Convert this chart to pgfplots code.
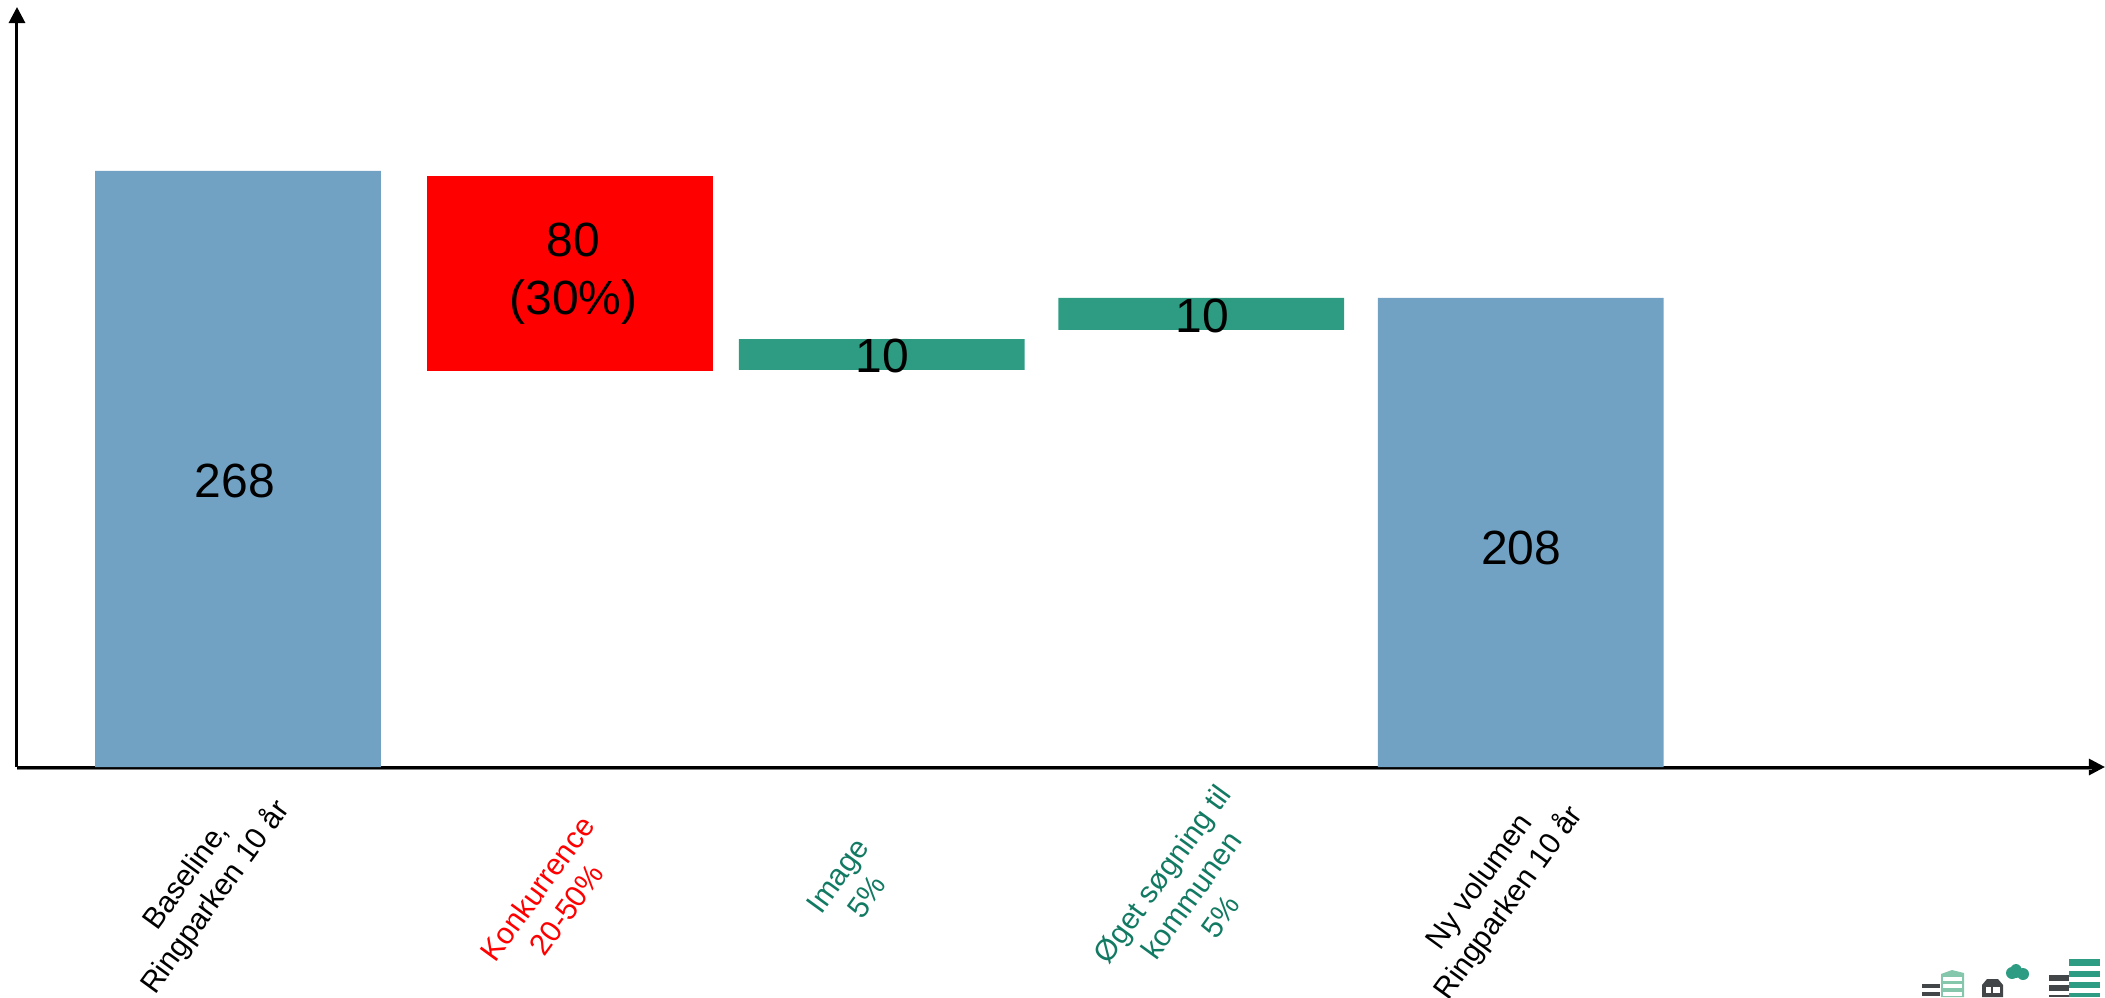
\documentclass[border=0pt]{standalone}
\usepackage{fontspec}
\setmainfont{Liberation Sans}
\usepackage{pgfplots}
\pgfplotsset{compat=1.18}
\usetikzlibrary{arrows.meta}
\definecolor{barblue}{HTML}{71A2C3}
\definecolor{bargreen}{HTML}{2E9C82}
\definecolor{txtgreen}{HTML}{127A62}
\definecolor{logolight}{HTML}{84C7AC}
\definecolor{logogrey}{HTML}{434648}
\tikzset{val/.style={font=\fontsize{24}{29}\selectfont, align=center, text=black}}
\begin{document}
\begin{tikzpicture}
\path[use as bounding box] (0,0) rectangle (1052.5pt,-498.5pt);
\begin{axis}[
	at={(8.5pt,-383.5pt)}, anchor=south west,
	scale only axis, width=1044pt, height=380pt,
	xmin=-0.6917, xmax=5.8435, ymin=0, ymax=341.7,
	axis lines=left,
	axis line style={line width=1.5pt, -{Triangle[length=8pt,width=8pt]}},
	ybar stacked, bar width=0.895,
	clip=false,
	ytick=\empty,
	xtick={-0.113,0.982,1.922,2.983,3.935},
	xticklabels={
		{Baseline,\\Ringparken 10 år},
		{\color{red}Konkurrence\\\color{red}20-50\%},
		{\color{txtgreen}Image\\\color{txtgreen}5\%},
		{\color{txtgreen}Øget søgning til\\\color{txtgreen}kommunen\\\color{txtgreen}5\%},
		{Ny volumen\\Ringparken 10 år}},
	major tick length=0pt,
	xticklabel style={yshift={-66pt+array({5.75,0,6.5,2,3},\ticknum)*1pt},
		rotate=54, anchor=center, align=center,
		font=\fontsize{15}{18}\selectfont},
	after end axis/.code={
		\node[val] at (axis cs:-0.01,128.6) {268};
		\node[val] at (axis cs:1.05,222) {80\\(30\%)};
		\node[val] at (axis cs:2.016,184.8) {10};
		\node[val] at (axis cs:3.018,203) {10};
		\node[val] at (axis cs:4.016,98.5) {208};
	},
]
% invisible base of the floating bars
\addplot[draw=none, fill=none] coordinates {(0,0) (1.04,178) (2.015,178.5) (3.015,196.5) (4.015,0)};
\addplot[draw=none, fill=barblue] coordinates {(0,268) (1.04,0) (2.015,0) (3.015,0) (4.015,210.9)};
\addplot[draw=none, fill=red] coordinates {(0,0) (1.04,87.9) (2.015,0) (3.015,0) (4.015,0)};
\addplot[draw=none, fill=bargreen] coordinates {(0,0) (1.04,0) (2.015,13.9) (3.015,14.4) (4.015,0)};
\end{axis}
\begin{scope}[x=0.5pt,y=-0.5pt]
% shadow under the x axis
\draw[gray, line width=0.7pt] (17,769.5) -- (2092,769.5);
% logos bottom right
\fill[logogrey] (1922,984) rectangle (1940,988);
\fill[logogrey] (1922,992) rectangle (1940,996);
\fill[logolight] (1941,974) -- (1952,970) -- (1964,973) -- (1964,997) -- (1941,997) -- cycle;
\fill[white] (1943,977) rectangle (1962,981);
\fill[white] (1943,984) rectangle (1962,988);
\fill[white] (1943,992) rectangle (1962,996);
\fill[logogrey] (1982,997) -- (1982,985) -- (1987,979) -- (1998,979) -- (2003,985) -- (2003,997) -- cycle;
\fill[white] (1986,987) rectangle (1991,993);
\fill[white] (1993,987) rectangle (2000,993);
\fill[bargreen] (2012,973) ellipse (6 and 6);
\fill[bargreen] (2016,971) ellipse (6 and 7);
\fill[bargreen] (2023,974) ellipse (6 and 6);
\fill[logogrey] (2049,975) rectangle (2069,981);
\fill[logogrey] (2049,985) rectangle (2069,991);
\fill[logogrey] (2049,995) rectangle (2069,997);
\fill[bargreen] (2069,959) rectangle (2100,966);
\fill[bargreen] (2069,971) rectangle (2100,977);
\fill[bargreen] (2069,982) rectangle (2100,988);
\fill[bargreen] (2069,993) rectangle (2100,997);
\end{scope}
\end{tikzpicture}
\end{document}
